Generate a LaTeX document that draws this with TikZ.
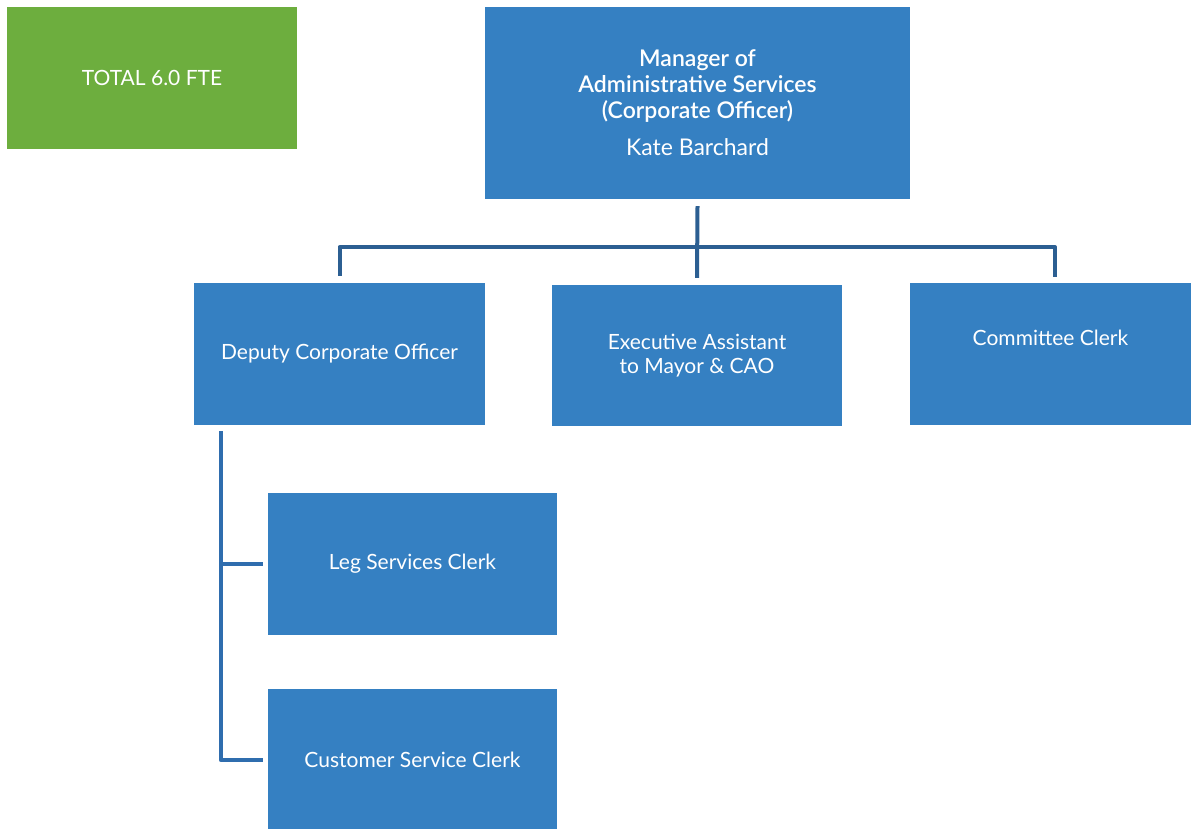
\documentclass[tikz,border=0pt]{standalone}
\usepackage{fontspec}
\setmainfont{Lato}
\newfontface\latosemi{Lato Semibold}
\newcommand\kbfont{\normalfont\fontsize{23}{26}\selectfont}
\definecolor{boxblue}{HTML}{3580C2}
\definecolor{boxgreen}{HTML}{6DAE3E}
\definecolor{linenavy}{HTML}{2C5F92}
\definecolor{lineblue}{HTML}{2F6DAE}
\begin{document}
\begin{tikzpicture}[x=1pt,y=1pt,
  box/.style={rectangle, fill=boxblue, draw=none, text=white, align=center,
    inner sep=0pt, font=\fontsize{21}{24}\selectfont},
  gbox/.style={box, fill=boxgreen},
  link/.style={draw=linenavy, line width=4pt},
  sublink/.style={draw=lineblue, line width=4pt}]
\useasboundingbox (0,0) rectangle (1191,828);
\node[gbox, minimum width=290pt, minimum height=142pt] (total) at (152,750) {TOTAL 6.0 FTE};
\node[box, minimum width=425pt, minimum height=192pt, font=\latosemi\fontsize{23}{26}\selectfont] (mgr) at (697.5,725)
  {Manager of\\ Administrative Services\\ (Corporate Officer)\\[11pt]
   \kbfont Kate Barchard};
\node[box, minimum width=291pt, minimum height=142pt] (dep) at (339.5,474) {Deputy Corporate Officer};
\node[box, minimum width=290pt, minimum height=141pt] (exec) at (697,472.5) {Executive Assistant\\ to Mayor \& CAO};
\node[box, minimum width=281pt, minimum height=142pt,
  label={[text=white, font=\fontsize{21}{24}\selectfont, yshift=16pt]center:Committee Clerk}] (com) at (1050.5,474) {};
\node[box, minimum width=289pt, minimum height=142pt] (leg) at (412.5,264) {Leg Services Clerk};
\node[box, minimum width=289pt, minimum height=142pt] (cust) at (412.5,68) {Customer Service Clerk};

\coordinate (bus) at (697,581);
\draw[link] ([yshift=-7pt]mgr.south) -- ([yshift=7pt]exec.north);
\draw[link, line join=round] ([yshift=7pt]dep.north) |- (bus) -| ([xshift=4.5pt,yshift=6pt]com.north);

\coordinate (spine) at ([xshift=27pt,yshift=-6pt]dep.south west);
\draw[sublink, line join=round] (spine) |- ([xshift=-5pt]cust.west);
\draw[sublink] ([xshift=-5pt]leg.west) -- (spine |- leg.west);
\end{tikzpicture}
\end{document}
